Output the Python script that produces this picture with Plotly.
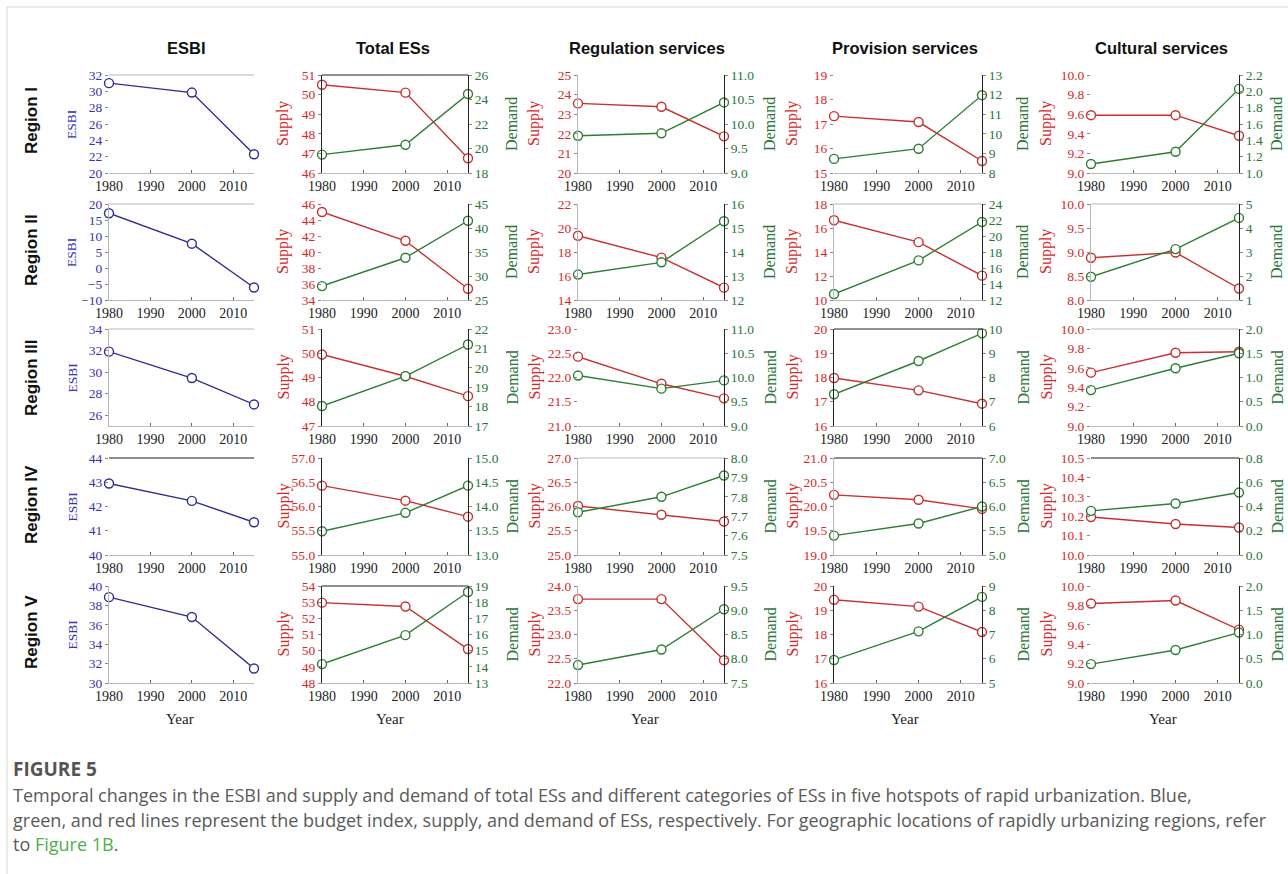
import plotly.graph_objects as go

W, H = 1288, 874

# ---------------- data ----------------
years = [1980, 2000, 2015]
year_ticks = [1980, 1990, 2000, 2010]
regions = ["Region I", "Region II", "Region III", "Region IV", "Region V"]
panel_titles = ["ESBI", "Total ESs", "Regulation services", "Provision services", "Cultural services"]

esbi = [[31.0, 29.85, 22.3], [17.1, 7.6, -6.1], [31.9, 29.45, 27.0], [42.95, 42.23, 41.35], [38.85, 36.8, 31.5]]
# (axis min, axis max, first tick, tick step)
esbi_axis = [(20, 32, 20, 2), (-10, 20, -10, 5), (25, 34, 26, 2), (40, 44, 40, 1), (30, 40, 30, 2)]

total_supply = [[50.5, 50.1, 46.75], [45.0, 41.4, 35.4], [49.95, 49.05, 48.23], [56.43, 56.12, 55.79], [52.97, 52.73, 50.1]]
total_demand = [[19.5, 20.3, 24.45], [27.9, 33.8, 41.5], [18.03, 19.57, 21.2], [13.49, 13.87, 14.43], [14.17, 15.96, 18.63]]
total_supply_axis = [(46, 51, 1), (34, 46, 2), (47, 51, 1), (55, 57, 0.5), (48, 54, 1)]
total_demand_axis = [(18, 26, 2), (25, 45, 5), (17, 22, 1), (13, 15, 0.5), (13, 19, 1)]

reg_supply = [[23.55, 23.38, 21.87], [19.35, 17.53, 15.03], [22.43, 21.87, 21.57], [26.01, 25.83, 25.69], [23.73, 23.73, 22.47]]
reg_demand = [[9.76, 9.81, 10.44], [13.06, 13.57, 15.28], [10.04, 9.77, 9.94], [7.72, 7.80, 7.91], [7.87, 8.19, 9.02]]
reg_supply_axis = [(20, 25, 1), (14, 22, 2), (21, 23, 0.5), (25, 27, 0.5), (22, 24, 0.5)]
reg_demand_axis = [(9, 11, 0.5), (12, 16, 1), (9, 11, 0.5), (7.5, 8.0, 0.1), (7.5, 9.5, 0.5)]

prov_supply = [[17.32, 17.08, 15.49], [16.65, 14.82, 12.03], [17.98, 17.47, 16.92], [20.24, 20.14, 19.95], [19.43, 19.15, 18.1]]
prov_demand = [[8.72, 9.24, 11.97], [12.75, 16.95, 21.75], [7.31, 8.68, 9.82], [5.40, 5.65, 6.0], [5.95, 7.13, 8.55]]
prov_supply_axis = [(15, 19, 1), (10, 18, 2), (16, 20, 1), (19, 21, 0.5), (16, 20, 1)]
prov_demand_axis = [(8, 13, 1), (12, 24, 2), (6, 10, 1), (5, 7, 0.5), (5, 9, 1)]

cult_supply = [[9.59, 9.59, 9.38], [8.88, 8.99, 8.24], [9.55, 9.755, 9.765], [10.196, 10.16, 10.142], [9.82, 9.85, 9.55]]
cult_demand = [[1.11, 1.26, 2.03], [1.97, 3.12, 4.42], [0.74, 1.19, 1.5], [0.364, 0.425, 0.515], [0.39, 0.68, 1.04]]
cult_supply_axis = [(9.0, 10.0, 0.2), (8.0, 10.0, 0.5), (9.0, 10.0, 0.2), (10.0, 10.5, 0.1), (9.0, 10.0, 0.2)]
cult_demand_axis = [(1.0, 2.2, 0.2), (1, 5, 1), (0, 2, 0.5), (0, 0.8, 0.2), (0, 2, 0.5)]

supply_sets = [total_supply, reg_supply, prov_supply, cult_supply]
demand_sets = [total_demand, reg_demand, prov_demand, cult_demand]
supply_axes = [total_supply_axis, reg_supply_axis, prov_supply_axis, cult_supply_axis]
demand_axes = [total_demand_axis, reg_demand_axis, prov_demand_axis, cult_demand_axis]

caption_title = "FIGURE 5"
caption_lines = [
    "Temporal changes in the ESBI and supply and demand of total ESs and different categories of ESs in five hotspots of rapid urbanization. Blue,",
    "green, and red lines represent the budget index, supply, and demand of ESs, respectively. For geographic locations of rapidly urbanizing regions, refer",
    "to <span style='color:#4cb04c'>Figure 1B</span>.",
]

# ---------------- styles / layout ----------------
BLUE, BLUE_T = "#2e2e8e", "#3535b0"
RED, RED_T = "#c83030", "#d42a2a"
GREEN, GREEN_T = "#2e7d34", "#2a7538"
SERIF = "Liberation Serif"
SANS = "Liberation Sans"

col_px = [(109, 254), (322, 468), (578, 724), (834, 982), (1091, 1239)]
row_px = [(75, 173), (204, 300), (329, 426), (458, 555), (586, 683)]
supply_title_x = [283, 534, 792, 1046]
demand_title_x = [512, 770, 1023, 1277]
esbi_title_x = 72
col_title_x = [186, 393, 647, 905, 1161]
year_x = [180, 390, 645, 905, 1163]
region_y = [121, 250, 378, 505, 632]

G, K = "#b8b8b8", "#222222"
# left-axis line colours (None = no line) and top line colours per panel
LEFT = [[None, K, G, None, None],
        [G, None, G, G, G],
        [G, K, None, K, None],
        [None, K, G, G, None],
        [G, K, G, K, None]]
TOP = [[G, K, None, None, None],
       [G, None, None, G, G],
       [G, None, None, K, G],
       [K, None, G, K, K],
       [None, K, None, None, None]]


def fx(p):
    return p / W


def fy(p):
    return 1 - p / H


def ticks(lo, hi, step, start=None):
    s = lo if start is None else start
    out = []
    v = s
    while v <= hi + 1e-9:
        out.append(round(v, 4))
        v += step
    return out


def fmt(step):
    return ".1f" if step < 1 else "d"


def label(text, px, py, size, color, family, angle=0, xanchor="center"):
    return dict(text=text, x=fx(px), y=fy(py), xref="paper", yref="paper",
                xanchor=xanchor, yanchor="middle", showarrow=False, textangle=angle,
                font=dict(family=family, size=size, color=color))


fig = go.Figure()
layout = dict(
    width=W, height=H, margin=dict(l=0, r=0, t=0, b=0, pad=0, autoexpand=False),
    paper_bgcolor="white", plot_bgcolor="rgba(0,0,0,0)", showlegend=False,
)
annotations = []
shapes = []

marker_common = dict(size=9, color="white")
sec = 26
for r in range(5):
    t, b = row_px[r]
    ydom = [fy(b), fy(t)]
    ymid = (t + b) / 2
    for c in range(5):
        k = r * 5 + c + 1
        xn = "x" if k == 1 else f"x{k}"
        yn = "y" if k == 1 else f"y{k}"
        xk = "xaxis" if k == 1 else f"xaxis{k}"
        yk = "yaxis" if k == 1 else f"yaxis{k}"
        l, rr = col_px[c]
        layout[xk] = dict(
            domain=[fx(l), fx(rr)], range=[1980, 2015], anchor=yn,
            tickvals=year_ticks, ticktext=[str(v) for v in year_ticks],
            ticks="inside", ticklen=3, tickcolor="#666",
            showline=True, linecolor=G, linewidth=1.2,
            showgrid=False, zeroline=False, automargin=False,
            tickfont=dict(family=SERIF, size=14, color="#222"),
        )
        if TOP[r][c]:
            shapes.append(dict(type="line", xref="paper", yref="paper",
                               x0=fx(l), x1=fx(rr), y0=fy(t), y1=fy(t),
                               line=dict(color=TOP[r][c], width=1.2)))
        ybase = dict(domain=ydom, anchor=xn, showgrid=False, zeroline=False, automargin=False,
                     ticks="outside", ticklen=3, tickcolor="#888")
        if c == 0:
            lo, hi, st, step = esbi_axis[r]
            layout[yk] = dict(ybase, range=[lo, hi], tickvals=ticks(lo, hi, step, st),
                              tickformat=fmt(step),
                              showline=LEFT[r][c] is not None, linecolor=LEFT[r][c] or G, linewidth=1.2,
                              tickfont=dict(family=SERIF, size=13.5, color=BLUE_T))
            fig.add_trace(go.Scatter(
                x=years, y=esbi[r], xaxis=xn, yaxis=yn, mode="lines+markers", cliponaxis=False,
                line=dict(color=BLUE, width=1.4),
                marker=dict(marker_common, line=dict(color=BLUE, width=1.4))))
            annotations.append(label("ESBI", esbi_title_x, ymid, 13.5, BLUE_T, SERIF, -90))
        else:
            i = c - 1
            slo, shi, sstep = supply_axes[i][r]
            dlo, dhi, dstep = demand_axes[i][r]
            layout[yk] = dict(ybase, range=[slo, shi], tickvals=ticks(slo, shi, sstep),
                              tickformat=fmt(sstep),
                              showline=LEFT[r][c] is not None, linecolor=LEFT[r][c] or G, linewidth=1.2,
                              tickfont=dict(family=SERIF, size=13.5, color=RED_T))
            y2n = f"y{sec}"
            layout[f"yaxis{sec}"] = dict(ybase, range=[dlo, dhi], tickvals=ticks(dlo, dhi, dstep),
                                         tickformat=fmt(dstep), overlaying=yn, side="right",
                                         showline=True, linecolor=K, linewidth=1.3,
                                         tickfont=dict(family=SERIF, size=13.5, color=GREEN_T))
            sec += 1
            fig.add_trace(go.Scatter(
                x=years, y=demand_sets[i][r], xaxis=xn, yaxis=y2n, mode="lines+markers", cliponaxis=False,
                line=dict(color=GREEN, width=1.4),
                marker=dict(marker_common, line=dict(color=GREEN, width=1.4))))
            fig.add_trace(go.Scatter(
                x=years, y=supply_sets[i][r], xaxis=xn, yaxis=yn, mode="lines+markers", cliponaxis=False,
                line=dict(color=RED, width=1.4),
                marker=dict(marker_common, line=dict(color=RED, width=1.4))))
            annotations.append(label("Supply", supply_title_x[i], ymid, 16, RED_T, SERIF, -90))
            annotations.append(label("Demand", demand_title_x[i], ymid, 16, GREEN_T, SERIF, -90))

# column titles and x titles
for c, name in enumerate(panel_titles):
    annotations.append(label(f"<b>{name}</b>", col_title_x[c], 48, 16.5, "#111", SANS))
    annotations.append(label("Year", year_x[c], 719, 15, "#222", SERIF))
# row labels
for r, name in enumerate(regions):
    annotations.append(label(f"<b>{name}</b>", 31, region_y[r], 17, "#111", SANS, -90))

# caption
annotations.append(label(f"<b>{caption_title}</b>", 11, 769, 19, "#555", "Open Sans", xanchor="left"))
for j, line in enumerate(caption_lines):
    annotations.append(label(line, 11, 795 + 24.5 * j, 18.0, "#5a5a5a", "Open Sans", xanchor="left"))

# card border
shapes.append(dict(type="line", xref="paper", yref="paper", x0=fx(7), x1=fx(7), y0=0, y1=fy(7),
                   line=dict(color="#d6d6d6", width=1)))
shapes.append(dict(type="line", xref="paper", yref="paper", x0=fx(7), x1=1, y0=fy(7), y1=fy(7),
                   line=dict(color="#d6d6d6", width=1)))

layout["annotations"] = annotations
layout["shapes"] = shapes
fig.update_layout(**layout)
fig.write_html("out.html", config={"displayModeBar": False},
               post_script="document.body.style.margin='0';document.body.style.overflow='hidden';")
